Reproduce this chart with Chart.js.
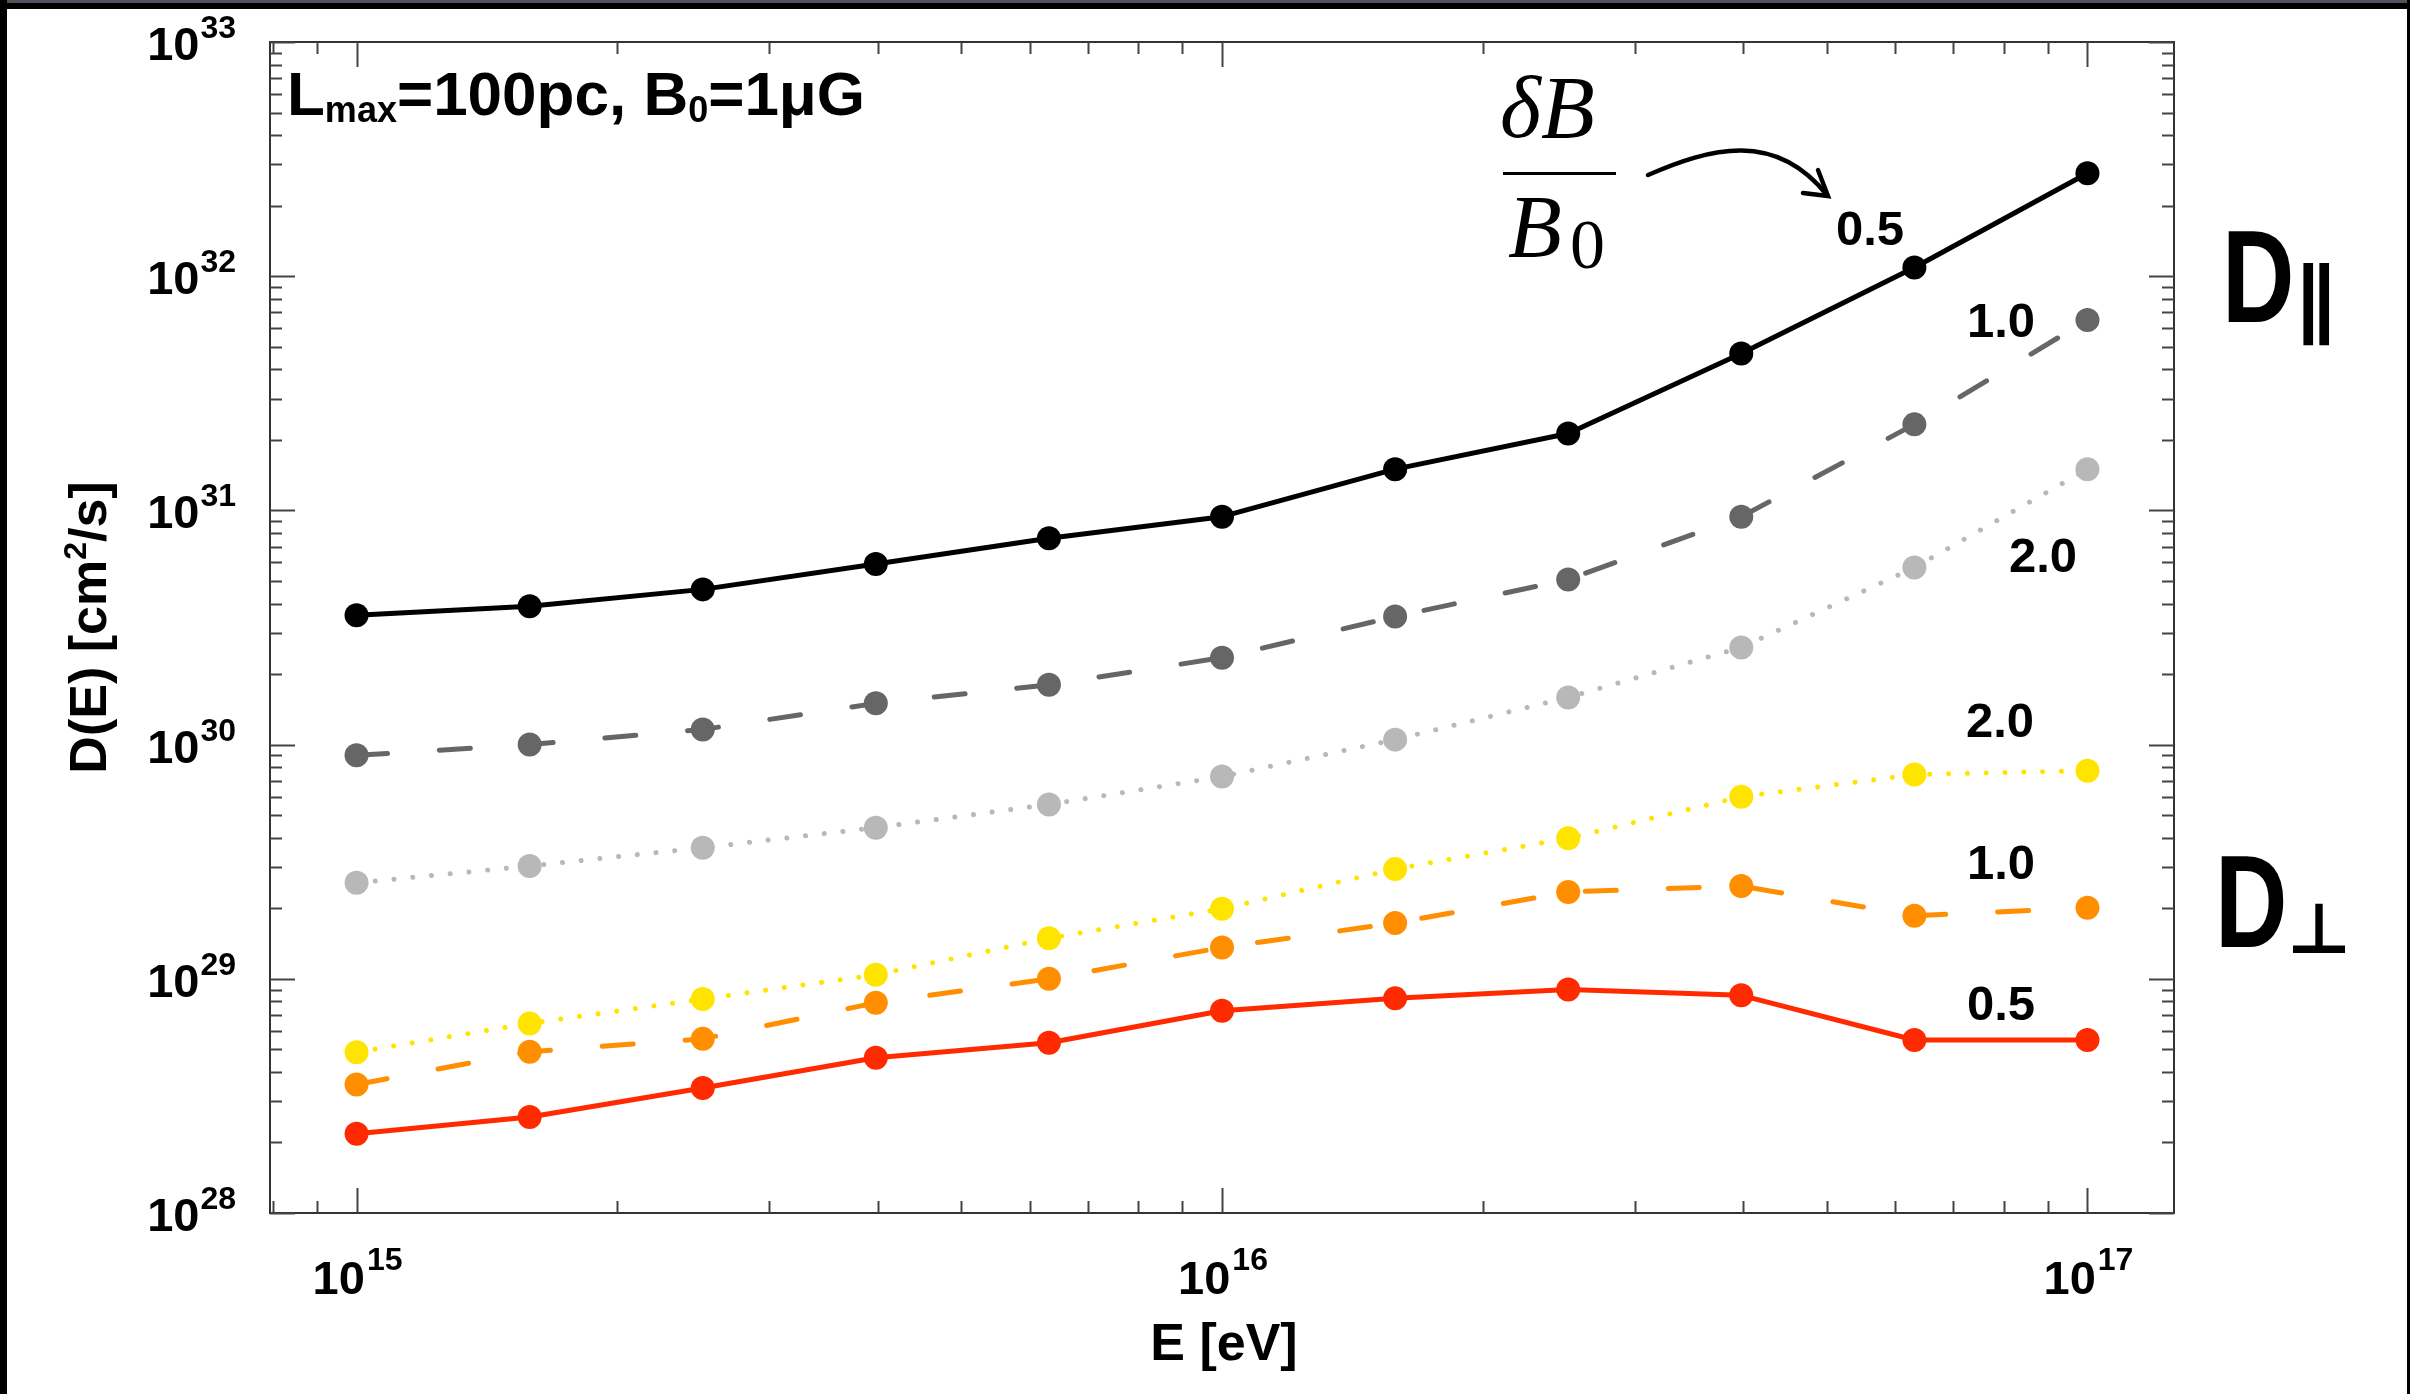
<!DOCTYPE html>
<html><head><meta charset="utf-8">
<script src="https://cdn.jsdelivr.net/npm/chart.js@4.4.0/dist/chart.umd.min.js"></script>
<style>html,body{margin:0;padding:0;background:#fff;overflow:hidden}canvas{display:block}</style>
</head><body>
<canvas id="c" width="2410" height="1394"></canvas>
<script>
// ---- data ----
const energy = [1.0e15, 1.585e15, 2.512e15, 3.981e15, 6.310e15, 1.0e16, 1.585e16, 2.512e16, 3.981e16, 6.310e16, 1.0e17];
const dPar05  = [3.57e30, 3.9e30, 4.6e30, 5.9e30, 7.6e30, 9.4e30, 1.5e31, 2.13e31, 4.68e31, 1.09e32, 2.75e32];
const dPar10  = [9.0e29, 1.0e30, 1.16e30, 1.5e30, 1.8e30, 2.35e30, 3.52e30, 5.07e30, 9.4e30, 2.33e31, 6.5e31];
const dPar20  = [2.57e29, 3.03e29, 3.63e29, 4.42e29, 5.55e29, 7.3e29, 1.05e30, 1.59e30, 2.6e30, 5.7e30, 1.5e31];
const dPerp20 = [4.86e28, 6.45e28, 8.2e28, 1.04e29, 1.49e29, 1.99e29, 2.94e29, 3.98e29, 5.99e29, 7.45e29, 7.74e29];
const dPerp10 = [3.54e28, 4.88e28, 5.54e28, 7.9e28, 1.0e29, 1.36e29, 1.73e29, 2.35e29, 2.49e29, 1.86e29, 2.01e29];
const dPerp05 = [2.18e28, 2.57e28, 3.42e28, 4.6e28, 5.33e28, 7.3e28, 8.25e28, 9.0e28, 8.5e28, 5.48e28, 5.48e28];
const seriesNames = ['0.5', '1.0', '2.0', '2.0', '1.0', '0.5'];
const xTickExps = [15, 16, 17];
const yTickExps = [28, 29, 30, 31, 32, 33];
const xMinExp = 14.9, xMaxExp = 17.1;

function pts(arr){ return energy.map((e,i)=>({x:e, y:arr[i]})); }
function ds(arr, color, width, dash){
  return {data: pts(arr), borderColor: color, backgroundColor: color, borderWidth: width,
    borderDash: dash || [], borderCapStyle: dash ? 'round' : 'butt', borderJoinStyle: 'round',
    pointRadius: 12, pointBackgroundColor: color, pointBorderWidth: 0, pointHoverRadius: 12,
    tension: 0, fill: false};
}
const DASH = [31, 52], DOT = [0.01, 18.8];

const decor = {
  id: 'decor',
  beforeDraw(chart){
    const c = chart.ctx; c.save(); c.fillStyle = '#fff'; c.fillRect(0,0,chart.width,chart.height); c.restore();
  },
  afterDraw(chart){
    const c = chart.ctx, a = chart.chartArea, xs = chart.scales.x, ys = chart.scales.y;
    c.save();
    // axis frame
    c.strokeStyle = '#333'; c.lineWidth = 2;
    c.strokeRect(a.left, a.top, a.right - a.left, a.bottom - a.top);
    // ticks
    c.strokeStyle = '#444'; c.lineWidth = 2;
    const MAJ = 25, MIN = 12;
    c.beginPath();
    for (let k = 14; k <= 17; k++) for (let m = 1; m <= 9; m++) {
      const v = m * Math.pow(10, k);
      if (Math.log10(v) < xMinExp || Math.log10(v) > xMaxExp) continue;
      const px = Math.round(xs.getPixelForValue(v)) + 0.5, L = m === 1 ? MAJ : MIN;
      c.moveTo(px, a.bottom); c.lineTo(px, a.bottom - L);
      c.moveTo(px, a.top); c.lineTo(px, a.top + L);
    }
    for (let k = 28; k <= 33; k++) for (let m = 1; m <= 9; m++) {
      const v = m * Math.pow(10, k);
      if (v < 1e28 || v > 1e33) continue;
      const py = Math.round(ys.getPixelForValue(v)) + 0.5, L = m === 1 ? MAJ : MIN;
      c.moveTo(a.left, py); c.lineTo(a.left + L, py);
      c.moveTo(a.right, py); c.lineTo(a.right - L, py);
    }
    c.stroke();
    // tick labels
    c.fillStyle = '#000';
    const bigF = 'bold 47px "Liberation Sans", Arial, sans-serif';
    const supF = 'bold 32px "Liberation Sans", Arial, sans-serif';
    c.textBaseline = 'alphabetic'; c.textAlign = 'left';
    xTickExps.forEach(e => {
      const px = xs.getPixelForValue(Math.pow(10, e));
      c.font = bigF; const w1 = c.measureText('10').width;
      c.font = supF; const w2 = c.measureText(String(e)).width;
      const x0 = px - (w1 + w2) / 2;
      c.font = bigF; c.fillText('10', x0, a.bottom + 81);
      c.font = supF; c.fillText(String(e), x0 + w1 + 2, a.bottom + 57);
    });
    yTickExps.forEach(e => {
      const py = ys.getPixelForValue(Math.pow(10, e));
      c.font = supF; const w2 = c.measureText(String(e)).width;
      c.font = bigF; const w1 = c.measureText('10').width;
      const xr = 236;
      c.font = bigF; c.fillText('10', xr - w2 - w1 - 1, py + 18);
      c.font = supF; c.fillText(String(e), xr - w2, py - 4);
    });
    // axis titles
    const tF = 'bold 52px "Liberation Sans", Arial, sans-serif';
    c.font = tF; c.textAlign = 'center';
    c.fillText('E [eV]', xs.getPixelForValue(1e16) + 2, 1360);
    c.save();
    c.translate(106, (a.top + a.bottom) / 2); c.rotate(-Math.PI / 2);
    c.textAlign = 'left';
    const p1 = 'D(E) [cm', p2 = '2', p3 = '/s]';
    c.font = tF; const w1 = c.measureText(p1).width, w3 = c.measureText(p3).width;
    c.font = 'bold 32px "Liberation Sans", Arial, sans-serif'; const w2 = c.measureText(p2).width;
    let sx = -(w1 + w2 + w3) / 2;
    c.font = tF; c.fillText(p1, sx, 0); sx += w1;
    c.font = 'bold 32px "Liberation Sans", Arial, sans-serif'; c.fillText(p2, sx, -20); sx += w2;
    c.font = tF; c.fillText(p3, sx, 0);
    c.restore();
    // top-left label
    c.textAlign = 'left';
    let lx = 287; const lb = 115;
    const mF = 'bold 62px "Liberation Sans", Arial, sans-serif', sF = 'bold 36px "Liberation Sans", Arial, sans-serif';
    const parts = [['L', mF, 0], ['max', sF, 7], ['=100pc, B', mF, 0], ['0', sF, 7], ['=1\u03BCG', mF, 0]];
    parts.forEach(p => { c.font = p[1]; c.fillText(p[0], lx, lb + p[2]); lx += c.measureText(p[0]).width; });
    // series value labels
    c.font = 'bold 49px "Liberation Sans", Arial, sans-serif'; c.textAlign = 'center';
    const labPos = [[1870, 228], [2001, 320], [2043, 555], [2000, 720], [2001, 862], [2001, 1003]];
    seriesNames.forEach((s, i) => c.fillText(s, labPos[i][0], labPos[i][1] + 17));
    // delta B / B0 fraction
    c.font = 'italic 88px "Liberation Serif", "DejaVu Serif", serif'; c.textAlign = 'left';
    c.fillText('\u03B4B', 1500, 137);
    c.fillRect(1503, 172, 113, 3);
    c.fillText('B', 1508, 256);
    c.font = '70px "Liberation Serif", "DejaVu Serif", serif';
    c.fillText('0', 1570, 268);
    // arrow
    c.lineWidth = 4.5; c.strokeStyle = '#000'; c.lineCap = 'round';
    c.beginPath(); c.moveTo(1648, 175);
    c.bezierCurveTo(1710, 148, 1775, 130, 1827, 195); c.stroke();
    c.beginPath(); c.moveTo(1818, 170); c.lineTo(1828, 196); c.lineTo(1803, 193); c.stroke();
    // D parallel / D perp
    c.save();
    c.font = 'bold 132px "Liberation Sans", Arial, sans-serif';
    c.translate(2222, 322); c.scale(0.76, 1); c.fillText('D', 0, 0);
    c.restore();
    c.font = 'bold 84px "DejaVu Sans", sans-serif';
    c.fillText('\u2225', 2294, 328);
    c.save();
    c.font = 'bold 132px "Liberation Sans", Arial, sans-serif';
    c.translate(2215, 947); c.scale(0.76, 1); c.fillText('D', 0, 0);
    c.restore();
    c.font = 'bold 70px "DejaVu Sans", sans-serif';
    c.fillText('\u22A5', 2287, 953);
    // screen bezel
    c.fillStyle = '#4d525c'; c.fillRect(0, 0, chart.width, 3);
    c.fillStyle = '#000'; c.fillRect(0, 3, chart.width, 6);
    c.fillRect(0, 0, 7, chart.height); c.fillRect(chart.width - 3, 0, 3, chart.height);
    c.restore();
  }
};

new Chart(document.getElementById('c').getContext('2d'), {
  type: 'line',
  data: { datasets: [
    ds(dPar05, '#000000', 5),
    ds(dPar10, '#666666', 5, DASH),
    ds(dPar20, '#b8b8b8', 5, DOT),
    ds(dPerp20, '#ffe400', 5, DOT),
    ds(dPerp10, '#ff8f00', 5, DASH),
    ds(dPerp05, '#ff2a00', 5)
  ]},
  options: {
    responsive: false, animation: false, devicePixelRatio: 1,
    layout: { padding: { top: 42, right: 236, left: 0, bottom: 0 } },
    plugins: { legend: { display: false }, tooltip: { enabled: false } },
    scales: {
      x: { type: 'logarithmic', min: Math.pow(10, xMinExp), max: Math.pow(10, xMaxExp),
           ticks: { display: false }, grid: { display: false }, border: { display: false },
           afterFit(s){ s.height = 181; } },
      y: { type: 'logarithmic', min: 1e28, max: 1e33,
           ticks: { display: false }, grid: { display: false }, border: { display: false },
           afterFit(s){ s.width = 270; } }
    }
  },
  plugins: [decor]
});
</script>
</body></html>
